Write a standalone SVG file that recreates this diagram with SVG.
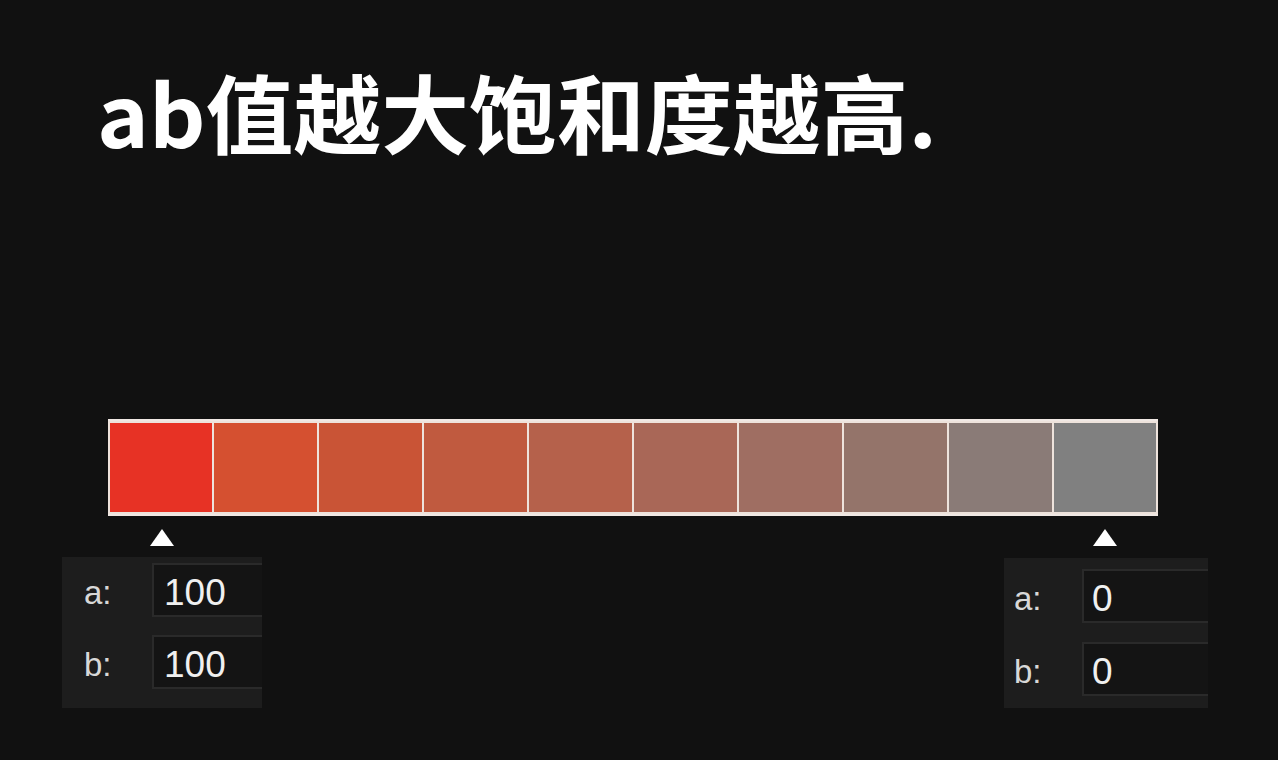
<svg xmlns="http://www.w3.org/2000/svg" width="1278" height="760" viewBox="0 0 1278 760">
<style>
.lbl{font-family:"Liberation Sans","Noto Sans",sans-serif;font-size:33px;fill:#d8d8d8}
.val{font-family:"Liberation Sans","Noto Sans",sans-serif;font-size:37px;fill:#f0f0f0}
.panel{fill:#1d1d1d}
.inp{fill:#141414;stroke:#2a2a2a;stroke-width:2}
.cell{stroke:#eee3dc;stroke-width:2}
.tri{fill:#ffffff}
</style>
<defs>
<clipPath id="clipL"><rect x="62" y="557" width="200" height="151"/></clipPath>
<clipPath id="clipR"><rect x="1004" y="558" width="204" height="150"/></clipPath>
</defs>
<rect width="1278" height="760" fill="#111111"/>
<text x="97" y="148" font-family="'Noto Sans CJK SC','Noto Sans',sans-serif" font-weight="bold" font-size="86" fill="#ffffff" textLength="840" lengthAdjust="spacingAndGlyphs">ab值越大饱和度越高.</text>
<g id="bar">
<rect x="108" y="419" width="1050" height="97" fill="#f0e8e4"/>
<rect class="cell" x="109" y="422" width="104" height="91" fill="#e73225"/>
<rect class="cell" x="213" y="422" width="105" height="91" fill="#d55030"/>
<rect class="cell" x="318" y="422" width="105" height="91" fill="#c95436"/>
<rect class="cell" x="423" y="422" width="105" height="91" fill="#c05a3f"/>
<rect class="cell" x="528" y="422" width="105" height="91" fill="#b5614b"/>
<rect class="cell" x="633" y="422" width="105" height="91" fill="#a96757"/>
<rect class="cell" x="738" y="422" width="105" height="91" fill="#9f6e62"/>
<rect class="cell" x="843" y="422" width="105" height="91" fill="#94746a"/>
<rect class="cell" x="948" y="422" width="105" height="91" fill="#8a7b77"/>
<rect class="cell" x="1053" y="422" width="104" height="91" fill="#808080"/>
</g>
<g id="marker-left"><polygon class="tri" points="162,529 174,546 150,546"/></g>
<g id="marker-right"><polygon class="tri" points="1105,529 1117,546 1093,546"/></g>
<g id="panel-left">
<rect class="panel" x="62" y="557" width="200" height="151"/>
<g clip-path="url(#clipL)">
<rect class="inp" x="153" y="564" width="130" height="52"/>
<rect class="inp" x="153" y="636" width="130" height="52"/>
</g>
<text class="lbl" x="84" y="604">a:</text>
<text class="lbl" x="84" y="676">b:</text>
<text class="val" x="164" y="605">100</text>
<text class="val" x="164" y="677">100</text>
</g>
<g id="panel-right">
<rect class="panel" x="1004" y="558" width="204" height="150"/>
<g clip-path="url(#clipR)">
<rect class="inp" x="1083" y="570" width="140" height="52"/>
<rect class="inp" x="1083" y="643" width="140" height="52"/>
</g>
<text class="lbl" x="1014" y="610">a:</text>
<text class="lbl" x="1014" y="683">b:</text>
<text class="val" x="1092" y="611">0</text>
<text class="val" x="1092" y="684">0</text>
</g>
</svg>
